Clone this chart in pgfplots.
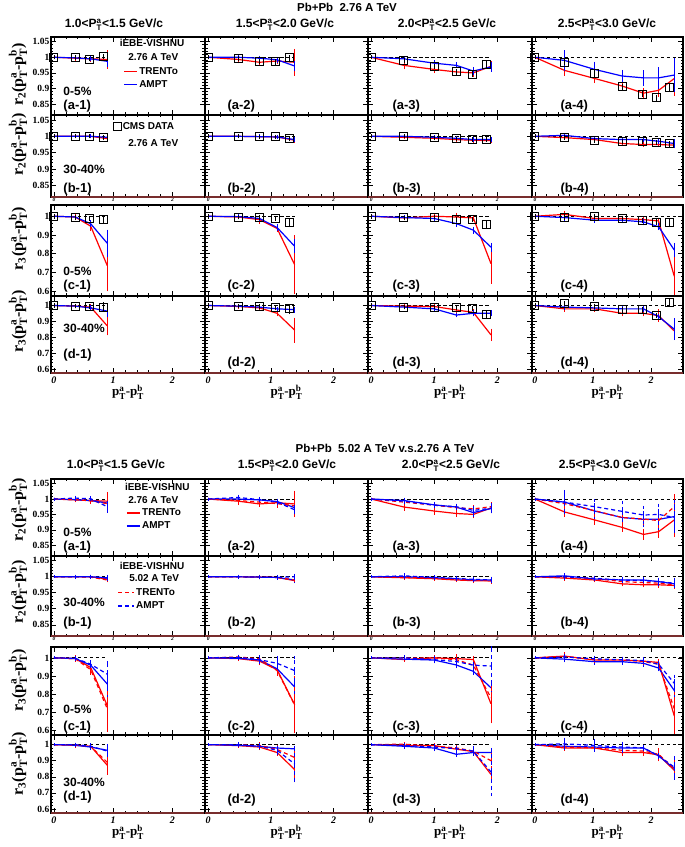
\documentclass[border=0pt]{standalone}
\usepackage{amsmath}
\usepackage{fontspec}
\setmainfont{Liberation Sans}
\newfontfamily\tms{Liberation Serif}
\usepackage{pgfplots}
\usepackage{pgfplotstable}
\pgfplotsset{compat=1.18}
\definecolor{rootred}{RGB}{255,0,0}
\definecolor{rootblue}{RGB}{0,0,255}
\definecolor{brownline}{RGB}{120,45,45}
\newcommand{\labf}{\bfseries\fontsize{13}{13}\selectfont}
\newcommand{\cenf}{\bfseries\fontsize{12}{12}\selectfont}
\newcommand{\hdf}{\bfseries\fontsize{12}{12}\selectfont}
\newcommand{\lgf}{\bfseries\fontsize{10}{10}\selectfont}
\pgfplotsset{
 pos/.style n args={4}{at={(#1pt,#2pt)}, width=#3pt, height=#4pt},
 pan/.style={scale only axis, anchor=north west, xmin=-0.05, xmax=2.55, xtick={0,1,2}, minor x tick num=4,
   tick align=inside, major tick length=5pt, minor tick length=2.5pt,
   axis line style={line width=1.1pt}, every tick/.style={black, line width=0.6pt}, clip=false,
   /pgf/number format/assume math mode=true,
   yticklabel style={font=\tms\bfseries\fontsize{9.5}{10}\selectfont, inner sep=1.5pt},
   xticklabel style={font=\tms\bfseries\itshape\fontsize{10}{10}\selectfont}},
 r2/.style={pan, ymin=0.815, ymax=1.065, ytick={0.85,0.9,0.95,1,1.05}, minor y tick num=4},
 r3/.style={pan, ymin=0.575, ymax=1.06, ytick={0.6,0.7,0.8,0.9,1}, minor y tick num=4},
 nox/.style={xticklabels={}},
 noy/.style={yticklabels={}},
 smallx/.style={xticklabel style={font=\tms\bfseries\itshape\fontsize{5.5}{6}\selectfont, inner sep=0.5pt}},
 ylab/.style 2 args={ylabel={\tms\bfseries r$_{\text{#1}}$(p$^{\text{a}}_{\text{T}}$-p$^{\text{b}}_{\text{T}}$)},
   ylabel style={at={(axis description cs:-0.214,#2)}, anchor=center, font=\fontsize{16}{16}\selectfont}},
 xlab/.style={xlabel={\tms\bfseries p$^{\text{a}}_{\text{T}}$-p$^{\text{b}}_{\text{T}}$},
   xlabel style={at={(axis description cs:0.5,0)}, anchor=center, yshift=-19pt, font=\fontsize{13}{13}\selectfont}},
 eb/.style={error bars/.cd, y dir=both, y explicit, error bar style={line width=0.8pt, solid}, error mark options={mark size=1.5pt, line width=0.8pt, solid}},
 ebd/.style={error bars/.cd, y dir=both, y explicit, error bar style={line width=0.8pt}, error mark options={mark size=1.5pt, line width=0.8pt}},
 leg/.style={legend style={draw=none, fill=none, at={(rel axis cs:#1)}, anchor=north west,
   font=\lgf, inner sep=0pt, row sep=0.5pt,
   nodes={inner sep=1.5pt, text height=7.5pt, text depth=2pt}}, legend cell align=left},
 lineleg/.style={legend image code/.code={\draw[##1] (0pt,0pt) -- (13pt,0pt);}},
 dashleg/.style={legend image code/.code={\draw[##1] (0pt,0pt) -- (16pt,0pt);}},
 sqleg/.style={legend image code/.code={\draw[##1] plot coordinates {(4pt,0pt)};}},
}
\newcommand{\refl}[1]{\addplot[black, dash pattern=on 3.5pt off 2.5pt, line width=1pt, forget plot] coordinates {(0,1) (#1,1)};}
\newcommand{\tr}[1]{\addplot[rootred, line width=1.2pt, mark=none, forget plot, eb] table[x=x,y=y,y error=e]{#1};}
\newcommand{\am}[1]{\addplot[rootblue, line width=1.2pt, mark=none, forget plot, eb] table[x=x,y=y,y error=e]{#1};}
\newcommand{\trf}[1]{\addplot[rootred, line width=1.2pt, dash pattern=on 4pt off 3pt, mark=none, forget plot, ebd] table[x=x,y=y,y error=e]{#1};}
\newcommand{\amf}[1]{\addplot[rootblue, line width=1.2pt, dash pattern=on 4pt off 3pt, mark=none, forget plot, ebd] table[x=x,y=y,y error=e]{#1};}
\newcommand{\cms}[1]{\addplot[black, only marks, mark=square, mark size=4pt, mark options={line width=1pt}, forget plot, eb] table[x=x,y=y,y error=e]{#1};}
\newcommand{\pl}[3]{\node[font=\labf, anchor=base west, yshift=#2pt] at (rel axis cs:#1,0) {#3};}
\newcommand{\cl}[2]{\node[font=\cenf, anchor=base west, yshift=#1pt] at (rel axis cs:0.058,0) {#2};}
\newcommand{\tx}[3]{\node[font=\lgf] at (rel axis cs:#1,#2) {#3};}
\newcommand{\brl}{\draw[brownline, line width=1.2pt] (rel axis cs:0,0) -- (rel axis cs:1,0);}

% ---------------- data: R = TRENTo 2.76, B = AMPT 2.76, D = CMS, S = TRENTo 5.02, Q = AMPT 5.02
\pgfplotstableread[row sep=\\]{x y e\\0 1 0\\0.36 0.997 0.003\\0.62 0.995 0.004\\0.9 0.993 0.025\\}\RaI
\pgfplotstableread[row sep=\\]{x y e\\0 1 0\\0.36 0.998 0.002\\0.62 0.995 0.003\\0.9 0.987 0.012\\}\BaI
\pgfplotstableread[row sep=\\]{x y e\\0 1 0.002\\0.36 0.999 0.002\\0.6 0.994 0.002\\0.84 1.002 0.004\\}\DaI
\pgfplotstableread[row sep=\\]{x y e\\0 1 0\\0.36 0.998 0.003\\0.62 0.994 0.006\\0.9 0.985 0.012\\}\SaI
\pgfplotstableread[row sep=\\]{x y e\\0 1 0\\0.36 1.003 0.003\\0.62 1.001 0.004\\0.9 0.975 0.015\\}\QaI
\pgfplotstableread[row sep=\\]{x y e\\0 1 0\\0.48 0.993 0.008\\0.82 0.984 0.005\\1.1 0.988 0.006\\1.38 0.984 0.038\\}\RaII
\pgfplotstableread[row sep=\\]{x y e\\0 1 0\\0.48 1 0.003\\0.82 0.997 0.003\\1.1 0.992 0.004\\1.38 0.972 0.012\\}\BaII
\pgfplotstableread[row sep=\\]{x y e\\0 1 0.002\\0.48 0.995 0.003\\0.82 0.987 0.003\\1.07 0.985 0.004\\1.3 0.998 0.004\\}\DaII
\pgfplotstableread[row sep=\\]{x y e\\0 1 0\\0.48 0.995 0.006\\0.82 0.99 0.005\\1.1 0.985 0.008\\1.38 0.978 0.02\\}\SaII
\pgfplotstableread[row sep=\\]{x y e\\0 1 0\\0.48 1.005 0.004\\0.82 0.998 0.004\\1.1 0.99 0.005\\1.38 0.965 0.01\\}\QaII
\pgfplotstableread[row sep=\\]{x y e\\0 1 0\\0.52 0.974 0.008\\1 0.961 0.007\\1.35 0.953 0.006\\1.62 0.95 0.008\\1.9 0.971 0.012\\}\RaIII
\pgfplotstableread[row sep=\\]{x y e\\0 1 0\\0.52 0.995 0.005\\1 0.981 0.005\\1.35 0.974 0.005\\1.62 0.956 0.008\\1.9 0.969 0.01\\}\BaIII
\pgfplotstableread[row sep=\\]{x y e\\0 1 0.002\\0.52 0.99 0.004\\1 0.971 0.004\\1.35 0.953 0.004\\1.6 0.946 0.004\\1.83 0.977 0.005\\}\DaIII
\pgfplotstableread[row sep=\\]{x y e\\0 1 0\\0.52 0.99 0.005\\1 0.98 0.006\\1.35 0.972 0.006\\1.62 0.968 0.007\\1.9 0.975 0.01\\}\SaIII
\pgfplotstableread[row sep=\\]{x y e\\0 1 0\\0.52 0.993 0.005\\1 0.98 0.005\\1.35 0.975 0.005\\1.62 0.963 0.01\\1.9 0.97 0.012\\}\QaIII
\pgfplotstableread[row sep=\\]{x y e\\0 1 0\\0.51 0.958 0.012\\1.03 0.932 0.01\\1.5 0.908 0.01\\1.87 0.885 0.012\\2.13 0.894 0.015\\2.4 0.932 0.05\\}\RaIV
\pgfplotstableread[row sep=\\]{x y e\\0 1 0\\0.51 0.99 0.028\\1.03 0.961 0.02\\1.5 0.94 0.015\\1.87 0.934 0.02\\2.13 0.934 0.03\\2.4 0.943 0.05\\}\BaIV
\pgfplotstableread[row sep=\\]{x y e\\0 1 0.002\\0.51 0.984 0.005\\1.03 0.948 0.005\\1.5 0.906 0.005\\1.85 0.882 0.005\\2.1 0.87 0.005\\2.32 0.904 0.007\\}\DaIV
\pgfplotstableread[row sep=\\]{x y e\\0 1 0\\0.51 0.985 0.015\\1.03 0.962 0.015\\1.5 0.94 0.015\\1.87 0.935 0.015\\2.13 0.93 0.02\\2.4 0.975 0.035\\}\SaIV
\pgfplotstableread[row sep=\\]{x y e\\0 1 0\\0.51 0.99 0.035\\1.03 0.975 0.02\\1.5 0.96 0.03\\1.87 0.948 0.025\\2.13 0.95 0.03\\2.4 0.94 0.04\\}\QaIV
% row b
\pgfplotstableread[row sep=\\]{x y e\\0 1 0\\0.36 1 0.001\\0.62 1 0.002\\0.9 0.993 0.004\\}\RbI
\pgfplotstableread[row sep=\\]{x y e\\0 1 0\\0.36 1 0.001\\0.62 1 0.002\\0.9 0.997 0.004\\}\BbI
\pgfplotstableread[row sep=\\]{x y e\\0 1 0.002\\0.36 1 0.002\\0.6 1 0.002\\0.84 0.995 0.003\\}\DbI
\pgfplotstableread[row sep=\\]{x y e\\0 1 0\\0.36 1 0.001\\0.62 0.999 0.002\\0.9 0.99 0.003\\}\SbI
\pgfplotstableread[row sep=\\]{x y e\\0 1 0\\0.36 1 0.001\\0.62 1 0.002\\0.9 0.996 0.004\\}\QbI
\pgfplotstableread[row sep=\\]{x y e\\0 1 0\\0.48 1 0.001\\0.82 0.999 0.002\\1.1 0.998 0.002\\1.38 0.988 0.004\\}\RbII
\pgfplotstableread[row sep=\\]{x y e\\0 1 0\\0.48 1 0.001\\0.82 0.999 0.002\\1.1 0.998 0.002\\1.38 0.99 0.004\\}\BbII
\pgfplotstableread[row sep=\\]{x y e\\0 1 0.002\\0.48 1 0.002\\0.82 0.998 0.002\\1.07 0.998 0.002\\1.3 0.992 0.003\\}\DbII
\pgfplotstableread[row sep=\\]{x y e\\0 1 0\\0.48 1 0.001\\0.82 0.999 0.002\\1.1 0.998 0.002\\1.38 0.99 0.003\\}\SbII
\pgfplotstableread[row sep=\\]{x y e\\0 1 0\\0.48 1 0.001\\0.82 0.999 0.002\\1.1 0.998 0.002\\1.38 1 0.005\\}\QbII
\pgfplotstableread[row sep=\\]{x y e\\0 1 0\\0.52 0.997 0.002\\1 0.994 0.002\\1.35 0.99 0.002\\1.62 0.988 0.003\\1.9 0.987 0.004\\}\RbIII
\pgfplotstableread[row sep=\\]{x y e\\0 1 0\\0.52 1 0.002\\1 0.997 0.002\\1.35 0.994 0.002\\1.62 0.99 0.003\\1.9 0.99 0.004\\}\BbIII
\pgfplotstableread[row sep=\\]{x y e\\0 1 0.002\\0.52 1 0.002\\1 0.995 0.002\\1.35 0.992 0.002\\1.6 0.99 0.002\\1.83 0.99 0.003\\}\DbIII
\pgfplotstableread[row sep=\\]{x y e\\0 1 0\\0.52 0.998 0.003\\1 0.996 0.002\\1.35 0.993 0.002\\1.62 0.99 0.003\\1.9 0.988 0.005\\}\SbIII
\pgfplotstableread[row sep=\\]{x y e\\0 1 0\\0.52 1.003 0.004\\1 0.998 0.002\\1.35 0.995 0.002\\1.62 0.992 0.003\\1.9 0.99 0.006\\}\QbIII
\pgfplotstableread[row sep=\\]{x y e\\0 1 0\\0.51 0.996 0.003\\1.03 0.99 0.003\\1.5 0.978 0.003\\1.87 0.975 0.003\\2.13 0.975 0.004\\2.4 0.973 0.005\\}\RbIV
\pgfplotstableread[row sep=\\]{x y e\\0 1 0\\0.51 1.003 0.003\\1.03 0.993 0.003\\1.5 0.99 0.003\\1.87 0.99 0.004\\2.13 0.985 0.005\\2.4 0.978 0.008\\}\BbIV
\pgfplotstableread[row sep=\\]{x y e\\0 1 0.002\\0.51 0.997 0.003\\1.03 0.988 0.003\\1.5 0.983 0.003\\1.85 0.983 0.003\\2.1 0.98 0.003\\2.32 0.977 0.004\\}\DbIV
\pgfplotstableread[row sep=\\]{x y e\\0 1 0\\0.51 0.998 0.004\\1.03 0.995 0.004\\1.5 0.985 0.004\\1.87 0.982 0.004\\2.13 0.98 0.006\\2.4 0.975 0.008\\}\SbIV
\pgfplotstableread[row sep=\\]{x y e\\0 1 0\\0.51 1 0.006\\1.03 0.995 0.004\\1.5 0.99 0.004\\1.87 0.988 0.004\\2.13 0.985 0.008\\2.4 0.98 0.01\\}\QbIV
% row c
\pgfplotstableread[row sep=\\]{x y e\\0 1 0\\0.36 0.996 0.01\\0.62 0.947 0.015\\0.9 0.737 0.13\\}\RcI
\pgfplotstableread[row sep=\\]{x y e\\0 1 0\\0.36 0.996 0.005\\0.62 0.96 0.01\\0.9 0.856 0.065\\}\BcI
\pgfplotstableread[row sep=\\]{x y e\\0 1 0.004\\0.36 0.993 0.005\\0.6 0.988 0.005\\0.84 0.982 0.015\\}\DcI
\pgfplotstableread[row sep=\\]{x y e\\0 1 0\\0.36 0.995 0.01\\0.62 0.935 0.02\\0.9 0.72 0.12\\}\ScI
\pgfplotstableread[row sep=\\]{x y e\\0 1 0\\0.36 0.998 0.006\\0.62 0.965 0.015\\0.9 0.91 0.065\\}\QcI
\pgfplotstableread[row sep=\\]{x y e\\0 1 0\\0.48 0.996 0.005\\0.82 0.982 0.015\\1.1 0.935 0.01\\1.38 0.742 0.15\\}\RcII
\pgfplotstableread[row sep=\\]{x y e\\0 1 0\\0.48 0.998 0.004\\0.82 0.988 0.008\\1.1 0.94 0.01\\1.38 0.84 0.03\\}\BcII
\pgfplotstableread[row sep=\\]{x y e\\0 1 0.004\\0.48 0.996 0.004\\0.82 0.993 0.005\\1.07 0.988 0.006\\1.3 0.965 0.01\\}\DcII
\pgfplotstableread[row sep=\\]{x y e\\0 1 0\\0.48 1.005 0.005\\0.82 0.995 0.01\\1.1 0.93 0.02\\1.38 0.74 0.12\\}\ScII
\pgfplotstableread[row sep=\\]{x y e\\0 1 0\\0.48 1.003 0.005\\0.82 0.99 0.015\\1.1 0.97 0.03\\1.38 0.93 0.07\\}\QcII
\pgfplotstableread[row sep=\\]{x y e\\0 1 0\\0.52 0.991 0.005\\1 1 0.005\\1.35 0.996 0.015\\1.62 0.991 0.01\\1.9 0.747 0.1\\}\RcIII
\pgfplotstableread[row sep=\\]{x y e\\0 1 0\\0.52 0.993 0.004\\1 0.988 0.01\\1.35 0.961 0.01\\1.62 0.926 0.01\\1.9 0.835 0.015\\}\BcIII
\pgfplotstableread[row sep=\\]{x y e\\0 1 0.004\\0.52 0.991 0.005\\1 0.996 0.005\\1.35 0.982 0.006\\1.6 0.982 0.006\\1.83 0.958 0.012\\}\DcIII
\pgfplotstableread[row sep=\\]{x y e\\0 1 0\\0.52 1 0.008\\1 1 0.005\\1.35 0.99 0.015\\1.62 0.96 0.01\\1.9 0.78 0.07\\}\ScIII
\pgfplotstableread[row sep=\\]{x y e\\0 1 0\\0.52 1 0.005\\1 0.99 0.01\\1.35 0.98 0.01\\1.62 0.96 0.01\\1.9 0.955 0.1\\}\QcIII
\pgfplotstableread[row sep=\\]{x y e\\0 1 0\\0.51 1.01 0.012\\1.03 0.988 0.01\\1.5 0.988 0.008\\1.87 0.982 0.01\\2.13 0.975 0.01\\2.4 0.68 0.1\\}\RcIV
\pgfplotstableread[row sep=\\]{x y e\\0 1 0\\0.51 0.993 0.01\\1.03 0.979 0.008\\1.5 0.979 0.008\\1.87 0.97 0.01\\2.13 0.944 0.01\\2.4 0.82 0.03\\}\BcIV
\pgfplotstableread[row sep=\\]{x y e\\0 1 0.004\\0.51 0.996 0.006\\1.03 1 0.006\\1.5 0.988 0.006\\1.85 0.979 0.006\\2.1 0.967 0.008\\2.32 0.967 0.012\\}\DcIV
\pgfplotstableread[row sep=\\]{x y e\\0 1 0\\0.51 1.008 0.01\\1.03 0.99 0.01\\1.5 0.99 0.008\\1.87 0.98 0.01\\2.13 0.965 0.01\\2.4 0.72 0.09\\}\ScIV
\pgfplotstableread[row sep=\\]{x y e\\0 1 0\\0.51 1.005 0.01\\1.03 0.995 0.008\\1.5 0.99 0.008\\1.87 0.985 0.01\\2.13 0.965 0.01\\2.4 0.86 0.04\\}\QcIV
% row d
\pgfplotstableread[row sep=\\]{x y e\\0 1 0\\0.36 0.996 0.005\\0.62 0.99 0.01\\0.9 0.872 0.05\\}\RdI
\pgfplotstableread[row sep=\\]{x y e\\0 1 0\\0.36 0.996 0.004\\0.62 0.985 0.008\\0.9 0.965 0.03\\}\BdI
\pgfplotstableread[row sep=\\]{x y e\\0 1 0.004\\0.36 0.996 0.004\\0.6 0.994 0.005\\0.84 0.99 0.02\\}\DdI
\pgfplotstableread[row sep=\\]{x y e\\0 1 0\\0.36 0.998 0.005\\0.62 0.99 0.01\\0.9 0.89 0.06\\}\SdI
\pgfplotstableread[row sep=\\]{x y e\\0 1 0\\0.36 1 0.004\\0.62 0.99 0.008\\0.9 0.96 0.02\\}\QdI
\pgfplotstableread[row sep=\\]{x y e\\0 1 0\\0.48 0.994 0.005\\0.82 0.985 0.01\\1.1 0.951 0.01\\1.38 0.845 0.07\\}\RdII
\pgfplotstableread[row sep=\\]{x y e\\0 1 0\\0.48 0.996 0.004\\0.82 0.99 0.005\\1.1 0.979 0.005\\1.38 0.974 0.01\\}\BdII
\pgfplotstableread[row sep=\\]{x y e\\0 1 0.004\\0.48 0.996 0.004\\0.82 0.994 0.005\\1.07 0.985 0.006\\1.3 0.979 0.02\\}\DdII
\pgfplotstableread[row sep=\\]{x y e\\0 1 0\\0.48 1 0.006\\0.82 0.995 0.01\\1.1 0.97 0.02\\1.38 0.92 0.03\\}\SdII
\pgfplotstableread[row sep=\\]{x y e\\0 1 0\\0.48 1 0.008\\0.82 0.99 0.01\\1.1 0.965 0.02\\1.38 0.88 0.1\\}\QdII
\pgfplotstableread[row sep=\\]{x y e\\0 1 0\\0.52 0.996 0.005\\1 0.994 0.005\\1.35 0.972 0.008\\1.62 0.957 0.01\\1.9 0.815 0.03\\}\RdIII
\pgfplotstableread[row sep=\\]{x y e\\0 1 0\\0.52 0.99 0.005\\1 0.979 0.01\\1.35 0.94 0.005\\1.62 0.951 0.01\\1.9 0.951 0.01\\}\BdIII
\pgfplotstableread[row sep=\\]{x y e\\0 1 0.004\\0.52 0.99 0.005\\1 0.99 0.005\\1.35 0.985 0.006\\1.6 0.979 0.006\\1.83 0.943 0.015\\}\DdIII
\pgfplotstableread[row sep=\\]{x y e\\0 1 0\\0.52 1.003 0.005\\1 0.99 0.008\\1.35 0.98 0.01\\1.62 0.96 0.02\\1.9 0.9 0.04\\}\SdIII
\pgfplotstableread[row sep=\\]{x y e\\0 1 0\\0.52 0.995 0.005\\1 0.985 0.01\\1.35 0.975 0.01\\1.62 0.96 0.02\\1.9 0.83 0.14\\}\QdIII
\pgfplotstableread[row sep=\\]{x y e\\0 1 0\\0.51 0.979 0.008\\1.03 0.979 0.008\\1.5 0.951 0.01\\1.87 0.951 0.01\\2.13 0.936 0.03\\2.4 0.84 0.04\\}\RdIV
\pgfplotstableread[row sep=\\]{x y e\\0 1 0\\0.51 0.99 0.01\\1.03 0.985 0.01\\1.5 0.979 0.01\\1.87 0.979 0.01\\2.13 0.93 0.01\\2.4 0.851 0.06\\}\BdIV
\pgfplotstableread[row sep=\\]{x y e\\0 1 0.004\\0.51 1.011 0.006\\1.03 0.996 0.006\\1.5 0.972 0.008\\1.85 0.972 0.008\\2.1 0.936 0.008\\2.32 1.021 0.01\\}\DdIV
\pgfplotstableread[row sep=\\]{x y e\\0 1 0\\0.51 0.985 0.01\\1.03 0.98 0.01\\1.5 0.965 0.01\\1.87 0.96 0.02\\2.13 0.94 0.03\\2.4 0.85 0.05\\}\SdIV
\pgfplotstableread[row sep=\\]{x y e\\0 1 0\\0.51 1.005 0.03\\1.03 0.995 0.03\\1.5 0.985 0.025\\1.87 0.98 0.01\\2.13 0.93 0.01\\2.4 0.86 0.06\\}\QdIV

\begin{document}
\begin{tikzpicture}
\path[use as bounding box] (0,0) rectangle (685pt,847pt);
% ================= TOP GRID =================
\node[font=\bfseries\fontsize{11.5}{12}\selectfont] at (347pt,840pt) {Pb+Pb\ \ 2.76 A TeV};
\node[font=\hdf] at (114pt,822pt) {1.0<P$^{\textbf{a}}_{\textbf{T}}$<1.5 GeV/c};
\node[font=\hdf] at (285pt,822pt) {1.5<P$^{\textbf{a}}_{\textbf{T}}$<2.0 GeV/c};
\node[font=\hdf] at (447pt,822pt) {2.0<P$^{\textbf{a}}_{\textbf{T}}$<2.5 GeV/c};
\node[font=\hdf] at (607pt,822pt) {2.5<P$^{\textbf{a}}_{\textbf{T}}$<3.0 GeV/c};
% row a
\begin{axis}[r2, pos={51}{810}{154}{78}, nox, ylab={2}{0.52}, leg={0.468,0.64}]
\refl{0.9}\tr\RaI\am\BaI\cms\DaI
\pl{0.058}{5}{(a-1)}\cl{19}{0-5\%}
\tx{0.656}{0.923}{iEBE-VISHNU}\tx{0.664}{0.744}{2.76 A TeV}
\addlegendimage{rootred,line width=1.5pt,lineleg}\addlegendentry{TRENTo}
\addlegendimage{rootblue,line width=1.5pt,lineleg}\addlegendentry{AMPT}
\end{axis}
\begin{axis}[r2, pos={205}{810}{163}{78}, nox, noy]
\refl{1.38}\tr\RaII\am\BaII\cms\DaII\pl{0.117}{5}{(a-2)}
\end{axis}
\begin{axis}[r2, pos={368}{810}{164}{78}, nox, noy]
\refl{1.9}\tr\RaIII\am\BaIII\cms\DaIII\pl{0.128}{5}{(a-3)}
\end{axis}
\begin{axis}[r2, pos={532}{810}{151}{78}, nox, noy]
\refl{2.55}\tr\RaIV\am\BaIV\cms\DaIV\pl{0.166}{5}{(a-4)}
\end{axis}
% row b
\begin{axis}[r2, pos={51}{732}{154}{82}, smallx, ylab={2}{0.64}, leg={0.403,0.935}]
\refl{0.9}\tr\RbI\am\BbI\cms\DbI\brl
\pl{0.058}{4}{(b-1)}\cl{23}{30-40\%}
\tx{0.664}{0.66}{2.76 A TeV}
\addlegendimage{black, mark=square, mark size=4pt, line width=1pt, sqleg}\addlegendentry{CMS DATA}
\end{axis}
\begin{axis}[r2, pos={205}{732}{163}{82}, smallx, noy]
\refl{1.38}\tr\RbII\am\BbII\cms\DbII\brl\pl{0.117}{4}{(b-2)}
\end{axis}
\begin{axis}[r2, pos={368}{732}{164}{82}, smallx, noy]
\refl{1.9}\tr\RbIII\am\BbIII\cms\DbIII\brl\pl{0.128}{4}{(b-3)}
\end{axis}
\begin{axis}[r2, pos={532}{732}{151}{82}, smallx, noy]
\refl{2.55}\tr\RbIV\am\BbIV\cms\DbIV\brl\pl{0.166}{4}{(b-4)}
\end{axis}
% row c
\begin{axis}[r3, pos={51}{642}{154}{91}, nox, ylab={3}{0.63}]
\refl{0.9}\tr\RcI\am\BcI\cms\DcI
\pl{0.058}{6}{(c-1)}\cl{20}{0-5\%}
\end{axis}
\begin{axis}[r3, pos={205}{642}{163}{91}, nox, noy]
\refl{1.38}\tr\RcII\am\BcII\cms\DcII\pl{0.117}{6}{(c-2)}
\end{axis}
\begin{axis}[r3, pos={368}{642}{164}{91}, nox, noy]
\refl{1.9}\tr\RcIII\am\BcIII\cms\DcIII\pl{0.128}{6}{(c-3)}
\end{axis}
\begin{axis}[r3, pos={532}{642}{151}{91}, nox, noy]
\refl{2.55}\tr\RcIV\am\BcIV\cms\DcIV\pl{0.166}{6}{(c-4)}
\end{axis}
% row d
\begin{axis}[r3, pos={51}{551}{154}{77}, xlab, ylab={3}{0.67}]
\refl{0.9}\tr\RdI\am\BdI\cms\DdI\brl
\pl{0.058}{14}{(d-1)}\cl{40}{30-40\%}
\end{axis}
\begin{axis}[r3, pos={205}{551}{163}{77}, xlab, noy]
\refl{1.38}\tr\RdII\am\BdII\cms\DdII\brl\pl{0.117}{6}{(d-2)}
\end{axis}
\begin{axis}[r3, pos={368}{551}{164}{77}, xlab, noy]
\refl{1.9}\tr\RdIII\am\BdIII\cms\DdIII\brl\pl{0.128}{6}{(d-3)}
\end{axis}
\begin{axis}[r3, pos={532}{551}{151}{77}, xlab, noy]
\refl{2.55}\tr\RdIV\am\BdIV\cms\DdIV\brl\pl{0.166}{6}{(d-4)}
\end{axis}
% ================= BOTTOM GRID =================
\node[font=\bfseries\fontsize{11.5}{12}\selectfont] at (385pt,399pt) {Pb+Pb\ \ 5.02 A TeV v.s.2.76 A TeV};
\node[font=\hdf] at (116pt,381pt) {1.0<P$^{\textbf{a}}_{\textbf{T}}$<1.5 GeV/c};
\node[font=\hdf] at (287pt,381pt) {1.5<P$^{\textbf{a}}_{\textbf{T}}$<2.0 GeV/c};
\node[font=\hdf] at (451pt,381pt) {2.0<P$^{\textbf{a}}_{\textbf{T}}$<2.5 GeV/c};
\node[font=\hdf] at (608pt,381pt) {2.5<P$^{\textbf{a}}_{\textbf{T}}$<3.0 GeV/c};
% row a
\begin{axis}[r2, pos={51}{368}{154}{77}, nox, ylab={2}{0.6}, leg={0.487,0.645}]
\refl{0.9}\tr\RaI\am\BaI\trf\SaI\amf\QaI
\pl{0.058}{5}{(a-1)}\cl{19}{0-5\%}
\tx{0.69}{0.896}{iEBE-VISHNU}\tx{0.664}{0.727}{2.76 A TeV}
\addlegendimage{rootred,line width=1.5pt,lineleg}\addlegendentry{TRENTo}
\addlegendimage{rootblue,line width=1.5pt,lineleg}\addlegendentry{AMPT}
\end{axis}
\begin{axis}[r2, pos={205}{368}{163}{77}, nox, noy]
\refl{1.38}\tr\RaII\am\BaII\trf\SaII\amf\QaII\pl{0.117}{5}{(a-2)}
\end{axis}
\begin{axis}[r2, pos={368}{368}{164}{77}, nox, noy]
\refl{1.9}\tr\RaIII\am\BaIII\trf\SaIII\amf\QaIII\pl{0.128}{5}{(a-3)}
\end{axis}
\begin{axis}[r2, pos={532}{368}{151}{77}, nox, noy]
\refl{2.55}\tr\RaIV\am\BaIV\trf\SaIV\amf\QaIV\pl{0.166}{5}{(a-4)}
\end{axis}
% row b
\begin{axis}[r2, pos={51}{291}{154}{80}, smallx, ylab={2}{0.55}, leg={0.43,0.62}]
\refl{0.9}\tr\RbI\am\BbI\trf\SbI\amf\QbI\brl
\pl{0.058}{10}{(b-1)}\cl{30}{30-40\%}
\tx{0.656}{0.875}{iEBE-VISHNU}\tx{0.67}{0.725}{5.02 A TeV}
\addlegendimage{rootred,line width=1.3pt,dash pattern=on 4pt off 3pt,dashleg}\addlegendentry{TRENTo}
\addlegendimage{rootblue,line width=1.3pt,dash pattern=on 4pt off 3pt,dashleg}\addlegendentry{AMPT}
\end{axis}
\begin{axis}[r2, pos={205}{291}{163}{80}, smallx, noy]
\refl{1.38}\tr\RbII\am\BbII\trf\SbII\amf\QbII\brl\pl{0.117}{10}{(b-2)}
\end{axis}
\begin{axis}[r2, pos={368}{291}{164}{80}, smallx, noy]
\refl{1.9}\tr\RbIII\am\BbIII\trf\SbIII\amf\QbIII\brl\pl{0.128}{10}{(b-3)}
\end{axis}
\begin{axis}[r2, pos={532}{291}{151}{80}, smallx, noy]
\refl{2.55}\tr\RbIV\am\BbIV\trf\SbIV\amf\QbIV\brl\pl{0.166}{10}{(b-4)}
\end{axis}
% row c
\begin{axis}[r3, pos={51}{200}{154}{88}, nox, ylab={3}{0.62}]
\refl{0.9}\tr\RcI\am\BcI\trf\ScI\amf\QcI
\pl{0.058}{4}{(c-1)}\cl{21}{0-5\%}
\end{axis}
\begin{axis}[r3, pos={205}{200}{163}{88}, nox, noy]
\refl{1.38}\tr\RcII\am\BcII\trf\ScII\amf\QcII\pl{0.117}{4}{(c-2)}
\end{axis}
\begin{axis}[r3, pos={368}{200}{164}{88}, nox, noy]
\refl{1.9}\tr\RcIII\am\BcIII\trf\ScIII\amf\QcIII\pl{0.128}{4}{(c-3)}
\end{axis}
\begin{axis}[r3, pos={532}{200}{151}{88}, nox, noy]
\refl{2.55}\tr\RcIV\am\BcIV\trf\ScIV\amf\QcIV\pl{0.166}{4}{(c-4)}
\end{axis}
% row d
\begin{axis}[r3, pos={51}{112}{154}{78}, xlab, ylab={3}{0.63}]
\refl{0.9}\tr\RdI\am\BdI\trf\SdI\amf\QdI\brl
\pl{0.058}{13}{(d-1)}\cl{27}{30-40\%}
\end{axis}
\begin{axis}[r3, pos={205}{112}{163}{78}, xlab, noy]
\refl{1.38}\tr\RdII\am\BdII\trf\SdII\amf\QdII\brl\pl{0.117}{10}{(d-2)}
\end{axis}
\begin{axis}[r3, pos={368}{112}{164}{78}, xlab, noy]
\refl{1.9}\tr\RdIII\am\BdIII\trf\SdIII\amf\QdIII\brl\pl{0.128}{10}{(d-3)}
\end{axis}
\begin{axis}[r3, pos={532}{112}{151}{78}, xlab, noy]
\refl{2.55}\tr\RdIV\am\BdIV\trf\SdIV\amf\QdIV\brl\pl{0.166}{10}{(d-4)}
\end{axis}
\end{tikzpicture}
\end{document}
